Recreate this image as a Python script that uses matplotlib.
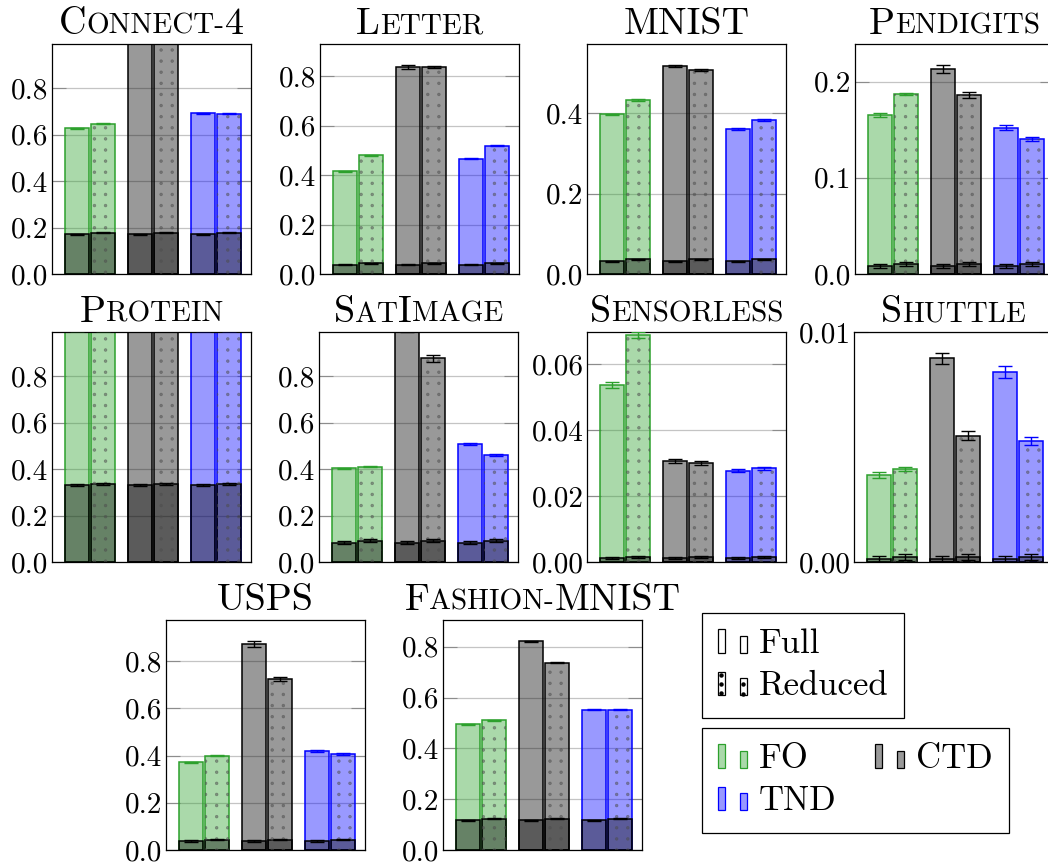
import numpy as np
import matplotlib
matplotlib.use("Agg")
import matplotlib.pyplot as plt
import matplotlib.hatch as mhatch
from matplotlib.path import Path
from matplotlib.colors import to_rgba
from matplotlib.patches import Rectangle
from matplotlib.lines import Line2D
from matplotlib.legend_handler import HandlerBase
from matplotlib.offsetbox import TextArea, HPacker, AnchoredOffsetbox

# ---------------- data ----------------
datasets = ["Connect-4", "Letter", "MNIST", "Pendigits",
            "Protein", "SatImage", "Sensorless", "Shuttle",
            "USPS", "Fashion-MNIST"]
methods = ["FO", "CTD", "TND"]
variants = ["Full", "Reduced"]

# order per dataset: FO full, FO reduced, CTD full, CTD reduced, TND full, TND reduced
bound_values = [
    [0.627, 0.646, 1.000, 1.000, 0.691, 0.690],
    [0.415, 0.480, 0.838, 0.837, 0.466, 0.519],
    [0.397, 0.432, 0.517, 0.508, 0.360, 0.383],
    [0.165, 0.187, 0.213, 0.186, 0.152, 0.140],
    [1.000, 1.000, 1.000, 1.000, 1.000, 1.000],
    [0.4025, 0.410, 1.000, 0.877, 0.509, 0.460],
    [0.0536, 0.0688, 0.0306, 0.0300, 0.0277, 0.0284],
    [0.00379, 0.00405, 0.00885, 0.00550, 0.00827, 0.00525],
    [0.372, 0.400, 0.875, 0.725, 0.421, 0.407],
    [0.494, 0.510, 0.821, 0.737, 0.551, 0.551],
]
bound_errors = [
    [0.002, 0.002, 0.004, 0.004, 0.002, 0.002],
    [0.002, 0.002, 0.008, 0.006, 0.003, 0.003],
    [0.002, 0.002, 0.003, 0.003, 0.002, 0.003],
    [0.002, 0.0015, 0.0038, 0.003, 0.0024, 0.002],
    [0.004, 0.004, 0.004, 0.004, 0.004, 0.004],
    [0.003, 0.003, 0.010, 0.014, 0.004, 0.003],
    [0.0008, 0.001, 0.0006, 0.0005, 0.0004, 0.0004],
    [0.00012, 0.0001, 0.00025, 0.000175, 0.00025, 0.00018],
    [0.003, 0.003, 0.013, 0.009, 0.004, 0.004],
    [0.002, 0.002, 0.003, 0.002, 0.002, 0.002],
]
test_values = [
    [0.171, 0.178, 0.171, 0.178, 0.171, 0.178],
    [0.0365, 0.043, 0.0365, 0.043, 0.0365, 0.043],
    [0.0315, 0.0365, 0.0315, 0.0365, 0.0315, 0.0365],
    [0.0087, 0.0107, 0.0087, 0.0107, 0.0087, 0.0107],
    [0.331, 0.336, 0.331, 0.336, 0.331, 0.336],
    [0.0836, 0.092, 0.0836, 0.092, 0.0836, 0.092],
    [0.00112, 0.00162, 0.00112, 0.00162, 0.00112, 0.00162],
    [0.000131, 0.000218, 0.000131, 0.000218, 0.000131, 0.000218],
    [0.0383, 0.044, 0.0383, 0.044, 0.0383, 0.044],
    [0.1173, 0.1225, 0.1173, 0.1225, 0.1173, 0.1225],
]
test_errors = [
    [0.002] * 6,
    [0.002] * 6,
    [0.001] * 6,
    [0.002] * 6,
    [0.004] * 6,
    [0.006] * 6,
    [0.0003] * 6,
    [0.00012] * 6,
    [0.003] * 6,
    [0.002] * 6,
]
y_max = [0.99, 0.93, 0.572, 0.239, 0.99, 0.99, 0.0697, 0.01, 0.975, 0.905]
y_ticks = [
    [0.0, 0.2, 0.4, 0.6, 0.8],
    [0.0, 0.2, 0.4, 0.6, 0.8],
    [0.0, 0.2, 0.4],
    [0.0, 0.1, 0.2],
    [0.0, 0.2, 0.4, 0.6, 0.8],
    [0.0, 0.2, 0.4, 0.6, 0.8],
    [0.00, 0.02, 0.04, 0.06],
    [0.00, 0.01],
    [0.0, 0.2, 0.4, 0.6, 0.8],
    [0.0, 0.2, 0.4, 0.6, 0.8],
]
tick_decimals = [1, 1, 1, 1, 1, 1, 2, 2, 1, 1]

# ---------------- style ----------------
method_colors = ["#2ca02c", "black", "blue"]
FILL_ALPHA = 0.4
plt.rcParams["font.family"] = "cmr10"
plt.rcParams["mathtext.fontset"] = "cm"
plt.rcParams["axes.formatter.use_mathtext"] = True
plt.rcParams["hatch.linewidth"] = 0.5


# square grid of small dots for the "." hatch (pgfplots-like dots pattern)
class _GridDots(mhatch.HatchPatternBase):
    def __init__(self, hatch, density):
        self.n = hatch.count('.') * 9
        circ = Path.unit_circle()
        self.shape_vertices = circ.vertices
        self.shape_codes = circ.codes
        self.num_vertices = self.n * self.n * len(self.shape_vertices)

    def set_vertices_and_codes(self, vertices, codes):
        if self.n == 0:
            return
        step = 1.0 / self.n
        r = 0.0135
        nv = len(self.shape_vertices)
        k = 0
        for i in range(self.n):
            for j in range(self.n):
                vertices[k:k + nv] = self.shape_vertices * r + ((i + 0.5) * step, (j + 0.5) * step)
                codes[k:k + nv] = self.shape_codes
                k += nv


mhatch._hatch_types = [(_GridDots if t is mhatch.SmallFilledCircles else t)
                       for t in mhatch._hatch_types]

W, H = 1048, 867
fig = plt.figure(figsize=(W / 100, H / 100), dpi=100)

AX_W, AX_H = 199, 230
row_tops = [44, 332, 620]
row_lefts = [[52, 320, 587, 855], [52, 319, 587, 854], [166, 443]]
positions = []
for top, lefts in zip(row_tops, row_lefts):
    for left in lefts:
        positions.append([left / W, 1 - (top + AX_H) / H, AX_W / W, AX_H / H])

BIG, SMALL = 27.5, 21


def smallcaps_title(ax, name):
    parts = []
    for ch in name:
        if ch.islower() or ch == '-':
            size, txt = SMALL, ch.upper()
        else:
            size, txt = BIG, ch
        if parts and parts[-1][1] == size:
            parts[-1][0] += txt
        else:
            parts.append([txt, size])
    boxes = [TextArea(t, textprops=dict(fontsize=s, family="cmr10")) for t, s in parts]
    pack = HPacker(children=boxes, align="baseline", pad=0, sep=0)
    ab = AnchoredOffsetbox(loc="lower center", child=pack, pad=0, borderpad=0,
                           frameon=False, bbox_to_anchor=(0.5, 1.0 + 3 / AX_H),
                           bbox_transform=ax.transAxes)
    fig.add_artist(ab)


group_x = np.arange(len(methods))
offsets = [-0.205, 0.205]
bar_w = 0.38

for k, name in enumerate(datasets):
    ax = fig.add_axes(positions[k])
    bvals = bound_values[k]
    berr = bound_errors[k]
    tvals = test_values[k]
    terr = test_errors[k]
    for m, c in enumerate(method_colors):
        for v in range(len(variants)):
            idx = 2 * m + v
            x = group_x[m] + offsets[v]
            ax.bar(x, bvals[idx], bar_w, color=to_rgba(c, FILL_ALPHA), edgecolor=c,
                   linewidth=1.1, zorder=2)
            ax.errorbar(x, bvals[idx], yerr=berr[idx], fmt="none", ecolor=c,
                        elinewidth=1.0, capsize=5, capthick=1.0, zorder=5)
            ax.bar(x, tvals[idx], bar_w, color=(0, 0, 0, 0.4), edgecolor="black",
                   linewidth=1.1, zorder=3)
            ax.errorbar(x, tvals[idx], yerr=terr[idx], fmt="none", ecolor="black",
                        elinewidth=1.0, capsize=5, capthick=1.0, zorder=5)
            if variants[v] == "Reduced":
                ax.bar(x, bvals[idx], bar_w, color="none",
                       edgecolor=(0.3, 0.3, 0.3, 0.5), linewidth=0, hatch=".",
                       zorder=4)
    ax.set_xlim(-0.6, 2.56)
    ax.set_ylim(0, y_max[k])
    ax.set_xticks([])
    ticks = y_ticks[k]
    ax.set_yticks(ticks, labels=[f"{t:.{tick_decimals[k]}f}" for t in ticks])
    ax.tick_params(axis="y", direction="in", length=10, width=0.8, color="#8c8c8c",
                   left=True, right=True, labelsize=21, pad=2.5)
    ax.grid(axis="y", color="#c4c4c4", linewidth=0.9)
    ax.set_axisbelow(True)
    for sp in ax.spines.values():
        sp.set_linewidth(0.9)
    smallcaps_title(ax, name)


# ---------------- legends ----------------
class PairBarHandler(HandlerBase):
    def __init__(self, face, edge, dotted=False):
        super().__init__()
        self.face, self.edge, self.dotted = face, edge, dotted

    def create_artists(self, legend, orig_handle, xdescent, ydescent, width, height,
                       fontsize, trans):
        x0, y0 = -xdescent, -ydescent
        bw = 0.25 * width
        heights = [height * 0.98, height * 0.72]
        xs = [x0, x0 + width - bw]
        arts = []
        for xi, hi in zip(xs, heights):
            r = Rectangle((xi, y0), bw, hi, facecolor=self.face, edgecolor=self.edge,
                          linewidth=0.9, transform=trans)
            arts.append(r)
        if self.dotted:
            fr = [[0.85, 0.47, 0.08], [0.65, 0.1]]
            for xi, hi, fl in zip(xs, heights, fr):
                ln = Line2D([xi + bw / 2] * len(fl), [y0 + f * hi for f in fl],
                            linestyle="none", marker="o", markersize=2.2,
                            color="black", transform=trans)
                arts.append(ln)
        return arts


LEG_FS = 25
common = dict(loc="upper left", bbox_transform=fig.transFigure, borderaxespad=0,
              frameon=True, fancybox=False, edgecolor="black", framealpha=1,
              fontsize=LEG_FS, handlelength=0.84, handleheight=0.7,
              handletextpad=0.35, borderpad=0.45, labelspacing=0.3)

h_var = [Rectangle((0, 0), 1, 1) for _ in variants]
hmap1 = {h_var[0]: PairBarHandler("white", "black", False),
         h_var[1]: PairBarHandler("white", "black", True)}
leg1 = fig.legend(handles=h_var, labels=variants, handler_map=hmap1,
                  bbox_to_anchor=(702 / W, 1 - 613 / H), **common)
leg1.get_frame().set_linewidth(0.9)

h_meth = [Rectangle((0, 0), 1, 1) for _ in methods]
hmap2 = {h: PairBarHandler(to_rgba(c, FILL_ALPHA), c) for h, c in zip(h_meth, method_colors)}
order = [0, 2, 1]
leg2 = fig.legend(handles=[h_meth[i] for i in order], labels=[methods[i] for i in order],
                  handler_map=hmap2, ncol=2, columnspacing=1.1,
                  bbox_to_anchor=(702 / W, 1 - 728 / H), **common)
leg2.get_frame().set_linewidth(0.9)

fig.savefig("out.png", dpi=100)
